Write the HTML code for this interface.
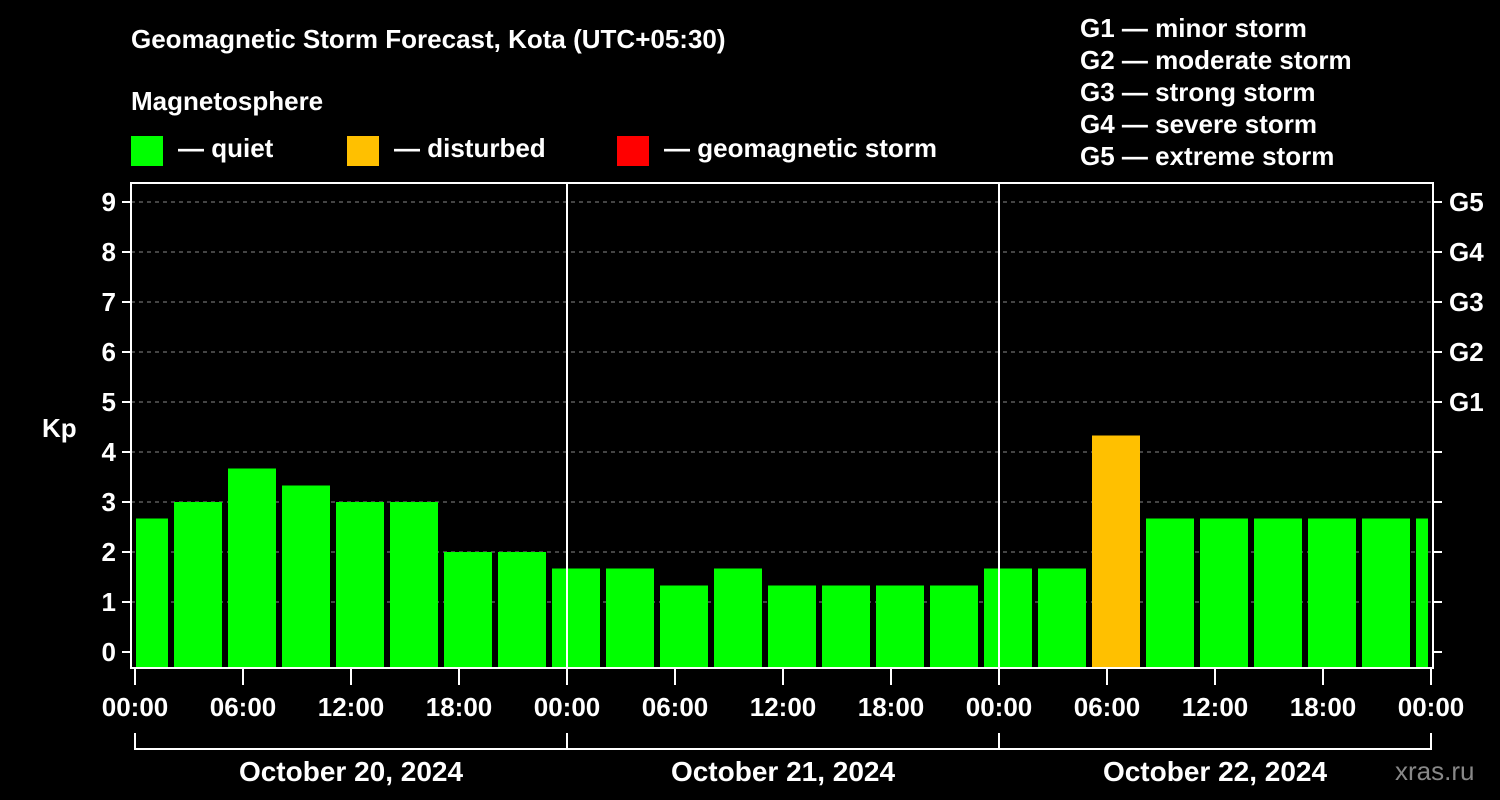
<!DOCTYPE html>
<html><head><meta charset="utf-8"><style>
html,body{margin:0;padding:0;background:#000;}
svg{display:block;font-family:"Liberation Sans",Arial,sans-serif;font-weight:bold;}
</style></head><body>
<svg width="1500" height="800" viewBox="0 0 1500 800">
<g id="static">
<text x="131" y="48" fill="#fff" font-size="26">Geomagnetic Storm Forecast, Kota (UTC+05:30)</text>
<text x="131" y="110" fill="#fff" font-size="26">Magnetosphere</text>
<rect x="131" y="136" width="32" height="30" fill="#00ff00"/>
<text x="178" y="157" fill="#fff" font-size="26">— quiet</text>
<rect x="347" y="136" width="32" height="30" fill="#ffc000"/>
<text x="394" y="157" fill="#fff" font-size="26">— disturbed</text>
<rect x="617" y="136" width="32" height="30" fill="#ff0000"/>
<text x="664" y="157" fill="#fff" font-size="26">— geomagnetic storm</text>
<g fill="#fff" font-size="26">
<text x="1080" y="37">G1 — minor storm</text>
<text x="1080" y="69">G2 — moderate storm</text>
<text x="1080" y="101">G3 — strong storm</text>
<text x="1080" y="133">G4 — severe storm</text>
<text x="1080" y="165">G5 — extreme storm</text>
</g>
<text x="42" y="437" fill="#fff" font-size="26">Kp</text>
<text x="1395" y="780" fill="#888" font-size="26" font-weight="normal">xras.ru</text>
</g>
<g id="grid"></g>
<g id="bars"></g>
<g id="axes"></g>
</svg>
<script>
const values=[2.67,3.0,3.67,3.33,3.0,3.0,2.0,2.0,1.67,1.67,1.33,1.67,1.33,1.33,1.33,1.33,1.67,1.67,4.33,2.67,2.67,2.67,2.67,2.67,2.67];
const yTicks=[0,1,2,3,4,5,6,7,8,9];
const gLabels=["G1","G2","G3","G4","G5"];
const gLevels=[5,6,7,8,9];
const xLabels=["00:00","06:00","12:00","18:00","00:00","06:00","12:00","18:00","00:00","06:00","12:00","18:00","00:00"];
const dayLabels=["October 20, 2024","October 21, 2024","October 22, 2024"];
const NS="http://www.w3.org/2000/svg";
const L=131,R=1433,T=183,B=668,X0=135,PXH=18;
const y=v=>652-50*v;
const xh=h=>X0+PXH*h;
function mk(tag,attrs,parent,text){const e=document.createElementNS(NS,tag);for(const k in attrs)e.setAttribute(k,attrs[k]);if(text!==undefined)e.textContent=text;parent.appendChild(e);return e;}
const grid=document.getElementById('grid'),bars=document.getElementById('bars'),axes=document.getElementById('axes');
yTicks.forEach(v=>{
 if(v>0){const g=mk('line',{x1:L,x2:R,y1:y(v),y2:y(v),stroke:'#888','stroke-width':1,'stroke-dasharray':'4,4'},grid);
 
 }
 const t=mk('line',{x1:122,x2:L,y1:y(v),y2:y(v),stroke:'#fff','stroke-width':2},axes);
 
 
 const rt=mk('line',{x1:R,x2:1442,y1:y(v),y2:y(v),stroke:'#fff','stroke-width':2},axes);
 
 
 const lb=mk('text',{x:116,y:y(v)+9,fill:'#fff','font-size':26,'text-anchor':'end'},axes,String(v));
 
 
});
gLabels.forEach((g,i)=>{
 const t=mk('text',{x:1449,y:y(gLevels[i])+9,fill:'#fff','font-size':26},axes,g);
 
 
});
const clip=mk('clipPath',{id:'pc'},mk('defs',{},bars));
mk('rect',{x:136,y:T,width:1292,height:B-T},clip);
const bg=mk('g',{'clip-path':'url(#pc)'},bars);
values.forEach((v,k)=>{
 const x0=xh(3*k)-15;
 const c=v>=5?'#ff0000':(v>=4?'#ffc000':'#00ff00');
 const r=mk('rect',{x:x0,y:y(v),width:48,height:B-y(v),fill:c},bg);
 
 
});
[24,48].forEach(h=>{
 const d=mk('line',{x1:xh(h),x2:xh(h),y1:T,y2:B,stroke:'#fff','stroke-width':2},axes);
 
 
});
const f=mk('rect',{x:L,y:T,width:R-L,height:B-T,fill:'none',stroke:'#fff','stroke-width':2},axes);


xLabels.forEach((s,i)=>{
 const x=xh(6*i);
 const t=mk('line',{x1:x,x2:x,y1:B,y2:685,stroke:'#fff','stroke-width':2},axes);
 
 
 const lb=mk('text',{x:x,y:716,fill:'#fff','font-size':26,'text-anchor':'middle'},axes,s);
 
 
});
const br=mk('line',{x1:xh(0),x2:xh(72),y1:749,y2:749,stroke:'#fff','stroke-width':2},axes);


[0,24,48,72].forEach(h=>{
 const v=mk('line',{x1:xh(h),x2:xh(h),y1:733,y2:750,stroke:'#fff','stroke-width':2},axes);
 
 
});
dayLabels.forEach((d,i)=>{
 const t=mk('text',{x:xh(24*i+12),y:781,fill:'#fff','font-size':28,'text-anchor':'middle'},axes,d);
 
 
});
</script>
</body></html>
